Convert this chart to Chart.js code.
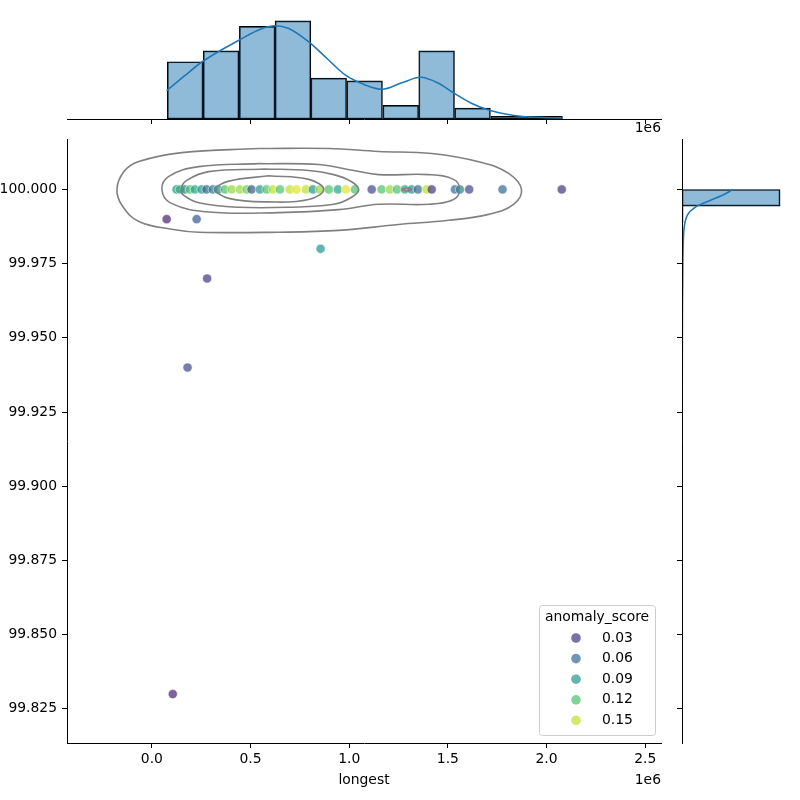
<!DOCTYPE html>
<html>
<head>
<meta charset="utf-8">
<title>longest vs uptime</title>
<script src="https://cdn.jsdelivr.net/npm/chart.js@4.4.0/dist/chart.umd.min.js"></script>
<style>
  body { margin: 0; background: #fff; }
  #wrap { position: relative; width: 800px; height: 800px; }
  canvas { position: absolute; top: 0; }
</style>
</head>
<body>
<div id="wrap">
  <canvas id="joint-chart" width="800" height="800" style="left:0"></canvas>
  <canvas id="top-chart" width="800" height="136" style="left:0"></canvas>
  <canvas id="side-chart" width="140" height="800" style="left:660px"></canvas>
</div>
<script>
// Scatter points (longest is in units of 1e6, like the axis)
const longest = [
  0.125, 0.142, 0.167, 0.193, 0.218, 0.252, 0.277, 0.309, 0.335, 0.370,
  0.404, 0.446, 0.480, 0.505, 0.547, 0.581, 0.613, 0.649, 0.699, 0.733,
  0.781, 0.816, 0.851, 0.897, 0.943, 0.983, 1.029, 1.114, 1.164, 1.206,
  1.242, 1.282, 1.316, 1.348, 1.392, 1.418, 1.536, 1.561, 1.608, 1.777,
  2.077, 0.075, 0.227, 0.855, 0.280, 0.181, 0.106
];
const uptime = [
  100, 100, 100, 100, 100, 100, 100, 100, 100, 100,
  100, 100, 100, 100, 100, 100, 100, 100, 100, 100,
  100, 100, 100, 100, 100, 100, 100, 100, 100, 100,
  100, 100, 100, 100, 100, 100, 100, 100, 100, 100,
  100, 99.99, 99.99, 99.98, 99.97, 99.94, 99.83
];
const anomalyScore = [
  0.09, 0.11, 0.08, 0.12, 0.10, 0.09, 0.06, 0.07, 0.08, 0.12,
  0.14, 0.14, 0.13, 0.05, 0.09, 0.12, 0.15, 0.12, 0.15, 0.16,
  0.15, 0.09, 0.14, 0.12, 0.10, 0.16, 0.12, 0.04, 0.12, 0.14,
  0.12, 0.10, 0.09, 0.06, 0.15, 0.03, 0.06, 0.08, 0.04, 0.06,
  0.03, 0.02, 0.05, 0.09, 0.03, 0.04, 0.02
];
const legendScores = [0.03, 0.06, 0.09, 0.12, 0.15];

// Density contours of the joint KDE, [longest, uptime]
const kdeLevel1 = [
  [0.542, 100.0138], [0.896, 100.0138], [1.149, 100.0128], [1.418, 100.0121],
  [1.671, 100.0091], [1.808, 100.0054], [1.873, 100.0], [1.833, 99.995],
  [1.706, 99.9916], [1.504, 99.9896], [1.251, 99.9882], [0.947, 99.9862],
  [0.643, 99.9856], [0.238, 99.9856], [0.101, 99.9866], [-0.066, 99.9892],
  [-0.150, 99.9945], [-0.177, 100.0], [-0.142, 100.006], [-0.066, 100.0094],
  [0.152, 100.0124], [0.542, 100.0138]
];
const kdeLevel2 = [
  [0.542, 100.0087], [0.846, 100.0084], [1.023, 100.0064], [1.149, 100.005],
  [1.403, 100.005], [1.529, 100.0034], [1.559, 100.0], [1.529, 99.9966],
  [1.403, 99.995], [1.149, 99.995], [0.947, 99.9932], [0.643, 99.9922],
  [0.289, 99.9924], [0.096, 99.9954], [0.051, 100.0], [0.086, 100.0044],
  [0.238, 100.0077], [0.542, 100.0087]
];
const kdeLevel3 = [
  [0.567, 100.0069], [0.795, 100.0064], [0.922, 100.005], [1.010, 100.0027],
  [1.048, 100.0], [1.010, 99.9973], [0.922, 99.995], [0.694, 99.994],
  [0.440, 99.994], [0.238, 99.9955], [0.162, 99.998], [0.147, 100.0],
  [0.175, 100.003], [0.289, 100.006], [0.567, 100.0069]
];
const kdeLevel4 = [
  [0.592, 100.0046], [0.795, 100.0034], [0.871, 100.0], [0.795, 99.9966],
  [0.592, 99.9958], [0.390, 99.997], [0.324, 100.0], [0.390, 100.0028],
  [0.592, 100.0046]
];
const kdeLevel5 = [
  [1.266, 100.0], [1.291, 100.0005], [1.316, 100.0], [1.291, 99.9995], [1.266, 100.0]
];

// Marginal histogram of longest
const longestBins = [0.169, 0.351, 0.534, 0.715, 0.896, 1.078, 1.261, 1.443, 1.625, 1.808, 1.990];
const longestCounts = [21, 25, 34, 36, 15, 14, 5, 25, 4, 1, 1];
const longestKdeX = [0.075, 0.162, 0.255, 0.441, 0.559, 0.626, 0.694, 0.795, 0.886, 0.981,
  1.082, 1.166, 1.267, 1.361, 1.453, 1.520, 1.622, 1.706, 1.892, 2.077];
const longestKdeY = [10.4, 15.6, 21.0, 28.9, 33.2, 34.2, 33.2, 28.3, 22.3, 16.1,
  12.5, 10.9, 13.3, 15.3, 13.1, 10.0, 5.7, 3.3, 0.8, 0.4];

// Marginal histogram of uptime
const uptimeBins = [
  99.8328, 99.8385, 99.8442, 99.8498, 99.8555, 99.8612, 99.8668, 99.8725, 99.8782, 99.8838,
  99.8895, 99.8952, 99.9008, 99.9065, 99.9122, 99.9178, 99.9235, 99.9292, 99.9348, 99.9405,
  99.9462, 99.9518, 99.9575, 99.9632, 99.9688, 99.9745, 99.9802, 99.9858, 99.9915, 99.9972
];
const uptimeCounts = [
  1, 0, 0, 0, 0, 0, 0, 0, 0, 0,
  0, 0, 0, 0, 0, 0, 0, 0, 0, 1,
  0, 0, 0, 0, 1, 0, 1, 0, 2, 175
];
const uptimeKdeY = [99.83, 99.88, 99.93, 99.96, 99.975, 99.9825, 99.9909, 99.9943, 99.9963, 99.9982, 100.0];
const uptimeKdeX = [0.1, 0.2, 0.3, 0.8, 1.5, 2.3, 8.4, 26, 50, 74, 90.5];

// Tick labels
const xTicks = [0.0, 0.5, 1.0, 1.5, 2.0, 2.5];
const yTicks = [99.825, 99.85, 99.875, 99.9, 99.925, 99.95, 99.975, 100.0];

const xRange = [-0.43, 2.58];
const yRange = [99.8135, 100.017];
const scoreRange = [0.006, 0.166];
const viridis = ["#440154", "#482878", "#3e4989", "#31688e", "#26828e",
  "#1f9e89", "#35b779", "#6ece58", "#b5de2b", "#fde725"];

Chart.defaults.font.family = "'DejaVu Sans', sans-serif";
Chart.defaults.font.size = 13.9;
Chart.defaults.color = "#000";
Chart.defaults.animation = false;
Chart.defaults.plugins.legend.display = false;
Chart.defaults.plugins.tooltip.enabled = false;

function hexToRgb(hex) {
  return [1, 3, 5].map((i) => parseInt(hex.slice(i, i + 2), 16));
}

// Map a score onto viridis
function scoreColor(score, alpha) {
  let t = (score - scoreRange[0]) / (scoreRange[1] - scoreRange[0]);
  t = Math.min(1, Math.max(0, t)) * (viridis.length - 1);
  const i = Math.min(Math.floor(t), viridis.length - 2);
  const f = t - i;
  const a = hexToRgb(viridis[i]);
  const b = hexToRgb(viridis[i + 1]);
  const c = a.map((v, k) => Math.round(v + (b[k] - v) * f));
  return `rgba(${c[0]}, ${c[1]}, ${c[2]}, ${alpha})`;
}

function setTicks(values) {
  return (axis) => {
    axis.ticks = values.map((v) => ({ value: v }));
  };
}

const tickGrid = { drawOnChartArea: false, drawTicks: true, tickLength: 5, color: "#000", lineWidth: 1 };
const axisBorder = { display: true, color: "#000", width: 1 };

function offsetLabel(y) {
  return {
    id: "offsetLabel",
    afterDraw(chart) {
      const ctx = chart.ctx;
      ctx.save();
      ctx.font = "13.9px 'DejaVu Sans'";
      ctx.fillStyle = "#000";
      ctx.textAlign = "right";
      ctx.textBaseline = "middle";
      ctx.fillText("1e6", chart.chartArea.right, y);
      ctx.restore();
    }
  };
}

// Legend box in the lower right corner of the joint plot
const scoreLegend = {
  id: "scoreLegend",
  afterDraw(chart) {
    const ctx = chart.ctx;
    const area = chart.chartArea;
    const w = 116;
    const h = 130;
    const x0 = area.right - 6 - w;
    const y0 = area.bottom - 8 - h;
    ctx.save();
    ctx.beginPath();
    ctx.roundRect(x0 + 0.5, y0 + 0.5, w, h, 3);
    ctx.fillStyle = "rgba(255, 255, 255, 0.8)";
    ctx.fill();
    ctx.strokeStyle = "#cccccc";
    ctx.lineWidth = 1;
    ctx.stroke();
    ctx.font = "13.9px 'DejaVu Sans'";
    ctx.fillStyle = "#000";
    ctx.textBaseline = "middle";
    ctx.textAlign = "center";
    ctx.fillText("anomaly_score", x0 + w / 2, y0 + 12);
    ctx.textAlign = "left";
    legendScores.forEach((s, i) => {
      const y = y0 + 33 + i * 20.6;
      ctx.beginPath();
      ctx.arc(x0 + 37, y, 4.8, 0, Math.PI * 2);
      ctx.fillStyle = scoreColor(s, 0.7);
      ctx.fill();
      ctx.fillStyle = "#000";
      ctx.fillText(s.toFixed(2), x0 + 63, y);
    });
    ctx.restore();
  }
};

function contourDataset(points) {
  return {
    data: points.map(([x, y]) => ({ x: x, y: y })),
    showLine: true,
    pointRadius: 0,
    borderColor: "#808080",
    borderWidth: 1.6,
    tension: 0.4,
    fill: false,
    order: 0
  };
}

// Joint scatter + contours
new Chart(document.getElementById("joint-chart"), {
  type: "scatter",
  data: {
    datasets: [
      {
        data: longest.map((x, i) => ({ x: x, y: uptime[i] })),
        pointRadius: 4.6,
        pointBackgroundColor: anomalyScore.map((s) => scoreColor(s, 0.7)),
        pointBorderColor: "rgba(255, 255, 255, 0.7)",
        pointBorderWidth: 0.75,
        order: 1
      },
      contourDataset(kdeLevel1),
      contourDataset(kdeLevel2),
      contourDataset(kdeLevel3),
      contourDataset(kdeLevel4),
      contourDataset(kdeLevel5)
    ]
  },
  options: {
    responsive: false,
    layout: { padding: { top: 139, right: 139, left: 0, bottom: 0 } },
    scales: {
      x: {
        type: "linear",
        min: xRange[0],
        max: xRange[1],
        grid: tickGrid,
        border: axisBorder,
        ticks: { padding: 3, callback: (v) => v.toFixed(1) },
        afterBuildTicks: setTicks(xTicks),
        afterFit: (axis) => { axis.height = 57; },
        title: { display: true, text: "longest", padding: { top: 0, bottom: 11 } }
      },
      y: {
        type: "linear",
        min: yRange[0],
        max: yRange[1],
        grid: tickGrid,
        border: axisBorder,
        ticks: { padding: 5, callback: (v) => v.toFixed(3) },
        afterBuildTicks: setTicks(yTicks),
        afterFit: (axis) => { axis.width = 67; }
      }
    }
  },
  plugins: [scoreLegend, offsetLabel(780)]
});

// Top marginal: histogram of longest
new Chart(document.getElementById("top-chart"), {
  type: "bar",
  data: {
    datasets: [
      {
        type: "line",
        data: longestKdeX.map((x, i) => ({ x: x, y: longestKdeY[i] })),
        borderColor: "#1f77b4",
        borderWidth: 1.6,
        pointRadius: 0,
        cubicInterpolationMode: "monotone",
        order: 0
      },
      {
        data: longestBins.map((x, i) => ({ x: x, y: longestCounts[i] })),
        backgroundColor: "rgba(31, 119, 180, 0.5)",
        borderColor: "#000",
        borderWidth: 1,
        borderSkipped: false,
        barPercentage: 1,
        categoryPercentage: 1,
        order: 1
      }
    ]
  },
  options: {
    responsive: false,
    layout: { padding: { top: 16, right: 139, left: 67, bottom: 0 } },
    scales: {
      x: {
        type: "linear",
        min: xRange[0],
        max: xRange[1],
        offset: false,
        grid: Object.assign({ offset: false, z: 1 }, tickGrid),
        border: Object.assign({ z: 1 }, axisBorder),
        ticks: { display: false },
        afterBuildTicks: setTicks(xTicks),
        afterFit: (axis) => { axis.height = 17; }
      },
      y: { display: false, min: 0, max: 37.8 }
    }
  },
  plugins: [offsetLabel(128)]
});

// Right marginal: histogram of uptime, spine drawn over the KDE line
new Chart(document.getElementById("side-chart"), {
  type: "bar",
  data: {
    datasets: [
      {
        type: "line",
        data: uptimeKdeY.map((y, i) => ({ x: uptimeKdeX[i], y: y })),
        borderColor: "#1f77b4",
        borderWidth: 1.6,
        pointRadius: 0,
        cubicInterpolationMode: "monotone",
        order: 0
      },
      {
        data: uptimeBins.map((y, i) => ({ x: uptimeCounts[i], y: y })),
        backgroundColor: "rgba(31, 119, 180, 0.5)",
        borderColor: "#000",
        borderWidth: 1,
        borderSkipped: false,
        barPercentage: 1,
        categoryPercentage: 1,
        order: 1
      }
    ]
  },
  options: {
    responsive: false,
    indexAxis: "y",
    layout: { padding: { top: 139, right: 15, left: 0, bottom: 57 } },
    scales: {
      y: {
        type: "linear",
        position: "left",
        min: yRange[0],
        max: yRange[1],
        offset: false,
        grid: Object.assign({ offset: false, z: 1 }, tickGrid),
        border: Object.assign({ z: 1 }, axisBorder),
        ticks: { display: false },
        afterBuildTicks: setTicks(yTicks),
        afterFit: (axis) => { axis.width = 22; }
      },
      x: { display: false, min: 0, max: 183.75 }
    }
  }
});
</script>
</body>
</html>
